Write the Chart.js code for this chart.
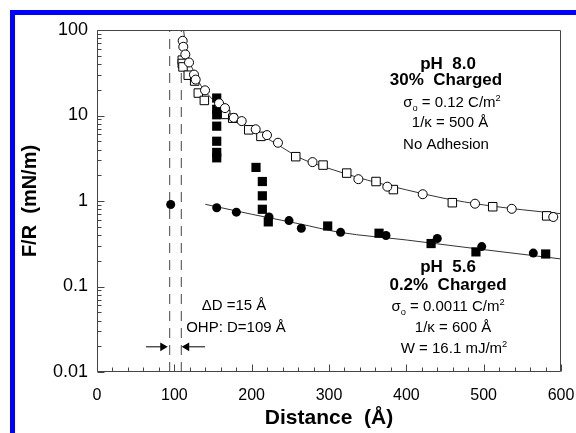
<!DOCTYPE html>
<html><head><meta charset="utf-8">
<script src="https://cdn.jsdelivr.net/npm/chart.js@4.4.0/dist/chart.umd.min.js"></script>
<style>
html,body{margin:0;padding:0;background:#fff;overflow:hidden;}
#wrap{position:relative;width:576px;height:433px;overflow:hidden;}
#frame{position:absolute;left:10px;top:10px;width:700px;height:600px;border-left:5px solid #0000ff;border-top:5px solid #0000ff;pointer-events:none;}
canvas{position:absolute;left:0;top:0;}
</style></head><body>
<div id="wrap"><canvas id="c" width="576" height="433"></canvas><div id="frame"></div></div>
<script>
// ---- data (Distance in Å, F/R in mN/m) ----
const openCircleD = [110.8,111.6,114.2,119,125.4,127.6,139.7,157.8,165.5,176.8,187.1,205.2,219.8,234,278.7,338,375.4,421.2,488.8,536.3,590];
const openCircleF = [74.8,63.6,51.8,41.7,30.1,26.3,19.7,13.9,12.2,9.4,8.6,6.9,5.9,4.8,2.85,1.80,1.47,1.20,0.93,0.81,0.65];
const openSquareD = [110.3,110.3,111.2,118,126.3,131,138.8,166.4,175.5,196.2,212,257,292.3,322.9,360.8,383.2,459.5,511.7,581.5];
const openSquareF = [44.4,40.6,37,29.6,25.3,18.3,15.0,10.3,9.3,6.8,5.7,3.3,2.63,2.12,1.69,1.36,0.955,0.857,0.67];
const filledSquareD = [154.8,154.8,154.8,154.8,154.8,154.8,154.8,205.6,213.8,213.8,213.8,221.5,298.3,364.7,432,490,580.2];
const filledSquareF = [16.0,11.8,10.2,7.5,5.0,3.7,3.2,2.47,1.69,1.15,0.80,0.57,0.51,0.42,0.318,0.254,0.24];
const filledCircleD = [95.3,154.8,180.2,222.4,248.3,264.2,315,373.7,440,497.5,564.2];
const filledCircleF = [0.91,0.835,0.74,0.65,0.59,0.48,0.43,0.395,0.364,0.293,0.246];
const fitHighD = [112,114,117,121,127,135,145,160,180,200,220,240,262,300,350,400,450,500,550,600];
const fitHighF = [100,70,52,40,30,22,17,12.5,9.0,7.0,5.4,4.2,3.2,2.4,1.75,1.35,1.07,0.9,0.79,0.71];
const fitLowD = [140,200,262,314,400,500,600];
const fitLowF = [0.915,0.70,0.54,0.43,0.35,0.27,0.21];
const dashLinesD = [94,109];
const arrowLeftD = [63.4,85];
const arrowRightD = [116,139.7];
const arrowF = 0.0197;
const xTickValues = [0,100,200,300,400,500,600];
const yTickValues = [0.01,0.1,1,10,100];
const yTickLabels = ['0.01','0.1','1','10','100'];

const pts = (xs, ys) => xs.map((v,i)=>({x:v,y:ys[i]}));
const FONT = '"Liberation Sans", Arial, Helvetica, sans-serif';

const datasets = [
  {data:pts(openCircleD,openCircleF),pointStyle:'circle',radius:4.5,backgroundColor:'#fff',borderColor:'#000',borderWidth:1,showLine:false},
  {data:pts(openSquareD,openSquareF),pointStyle:'rect',radius:6,backgroundColor:'#fff',borderColor:'#000',borderWidth:1,showLine:false},
  {data:pts(filledSquareD,filledSquareF),pointStyle:'rect',radius:6.5,backgroundColor:'#000',borderColor:'#000',borderWidth:0,showLine:false},
  {data:pts(filledCircleD,filledCircleF),pointStyle:'circle',radius:4.5,backgroundColor:'#000',borderColor:'#000',borderWidth:0,showLine:false},
  {data:pts(fitHighD,fitHighF),showLine:true,pointRadius:0,borderColor:'#333',borderWidth:1,cubicInterpolationMode:'monotone'},
  {data:pts(fitLowD,fitLowF),showLine:true,pointRadius:0,borderColor:'#333',borderWidth:1,cubicInterpolationMode:'monotone'},
  ...dashLinesD.map(d=>({data:[{x:d,y:0.01},{x:d,y:100}],showLine:true,pointRadius:0,borderColor:'#444',borderWidth:1,borderDash:[10,7]})),
  {data:[{x:arrowLeftD[0],y:arrowF},{x:arrowLeftD[1],y:arrowF}],showLine:true,pointRadius:0,borderColor:'#000',borderWidth:1},
  {data:[{x:arrowRightD[0],y:arrowF},{x:arrowRightD[1],y:arrowF}],showLine:true,pointRadius:0,borderColor:'#000',borderWidth:1},
  {data:[{x:arrowLeftD[1],y:arrowF}],pointStyle:'triangle',rotation:90,radius:5,backgroundColor:'#000',borderColor:'#000',borderWidth:0,showLine:false},
  {data:[{x:arrowRightD[0],y:arrowF}],pointStyle:'triangle',rotation:-90,radius:5,backgroundColor:'#000',borderColor:'#000',borderWidth:0,showLine:false}
];

function drawRich(ctx, segs, cx, cy, size, bold){
  const f = (s)=> (bold?'bold ':'') + s + 'px ' + FONT;
  let total = 0;
  segs.forEach(s=>{ ctx.font = f(s.sub||s.sup ? size*0.62 : size); s.w = ctx.measureText(s.t).width; total += s.w; });
  let x = cx - total/2;
  ctx.textBaseline = 'middle'; ctx.textAlign='left'; ctx.fillStyle='#000';
  segs.forEach(s=>{
    ctx.font = f(s.sub||s.sup ? size*0.62 : size);
    const dy = s.sub ? size*0.35 : (s.sup ? -size*0.33 : 0);
    ctx.fillText(s.t, x, cy+dy);
    x += s.w;
  });
}

const deco = {
  id:'deco',
  afterDraw(chart){
    const {ctx, chartArea:a, scales:{x,y}} = chart;
    ctx.save();
    ctx.strokeStyle='#444'; ctx.lineWidth=1;
    const L=Math.round(a.left)+0.5, R=Math.round(a.right)-0.5, T=Math.round(a.top)+0.5, B=Math.round(a.bottom)-0.5;
    ctx.beginPath(); ctx.moveTo(L,T); ctx.lineTo(R,T); ctx.lineTo(R,B); ctx.lineTo(L,B); ctx.closePath(); ctx.stroke();
    ctx.beginPath();
    for(let v=0; v<=600; v+=20){
      const px = Math.round(x.getPixelForValue(v))+0.5;
      const len = v%100===0 ? 7 : 4;
      ctx.moveTo(px,B); ctx.lineTo(px,B-len);
    }
    for(const d of [0.01,0.1,1,10]){
      for(let m=1;m<=9;m++){
        const py = Math.round(y.getPixelForValue(d*m))+0.5;
        const len = m===1 ? 7 : 4;
        ctx.moveTo(L,py); ctx.lineTo(L+len,py);
      }
    }
    const pt = Math.round(y.getPixelForValue(100))+0.5;
    ctx.moveTo(L,pt); ctx.lineTo(L+7,pt);
    ctx.stroke();

    drawRich(ctx,[{t:'pH  8.0'}],448,64,17,true);
    drawRich(ctx,[{t:'30%  Charged'}],446,80,17,true);
    drawRich(ctx,[{t:'σ'},{t:'o',sub:true},{t:' = 0.12 C/m'},{t:'2',sup:true}],452,103,15,false);
    drawRich(ctx,[{t:'1/κ = 500 Å'}],450,123,15,false);
    drawRich(ctx,[{t:'No Adhesion'}],446,145,15,false);
    drawRich(ctx,[{t:'pH  5.6'}],448,267,17,true);
    drawRich(ctx,[{t:'0.2%  Charged'}],448,285,17,true);
    drawRich(ctx,[{t:'σ'},{t:'o',sub:true},{t:' = 0.0011 C/m'},{t:'2',sup:true}],448,307,15,false);
    drawRich(ctx,[{t:'1/κ = 600 Å'}],453,328,15,false);
    drawRich(ctx,[{t:'W = 16.1 mJ/m'},{t:'2',sup:true}],454,349,15,false);
    drawRich(ctx,[{t:'ΔD =15 Å'}],234,306,15,false);
    drawRich(ctx,[{t:'OHP: D=109 Å'}],236,328,15,false);
    ctx.restore();
  }
};

new Chart(document.getElementById('c'), {
  type:'scatter',
  data:{datasets},
  options:{
    responsive:false, animation:false,
    layout:{padding:{top:30,right:15,left:0,bottom:0}},
    plugins:{legend:{display:false},tooltip:{enabled:false}},
    scales:{
      x:{type:'linear',min:0,max:600,
        afterBuildTicks:(s)=>{s.ticks = xTickValues.map(v=>({value:v}));},
        afterFit:(s)=>{s.height=61; s.paddingLeft=0; s.paddingRight=0;},
        grid:{display:false,drawTicks:false},border:{display:false},
        ticks:{color:'#000',font:{family:FONT,size:16},padding:14,autoSkip:false,maxRotation:0},
        title:{display:true,text:'Distance  (Å)',color:'#000',font:{family:FONT,size:21,weight:'bold'},padding:{top:0,bottom:2}}
      },
      y:{type:'logarithmic',min:0.01,max:100,
        afterBuildTicks:(s)=>{s.ticks = yTickValues.map(v=>({value:v}));},
        afterFit:(s)=>{s.width=97; s.paddingTop=0; s.paddingBottom=0;},
        grid:{display:false,drawTicks:false},border:{display:false},
        ticks:{color:'#000',font:{family:FONT,size:18},padding:9,autoSkip:false,
          callback:(v)=>{const i=yTickValues.indexOf(v);return i>=0?yTickLabels[i]:'';}},
        title:{display:true,text:'F/R  (mN/m)',color:'#000',font:{family:FONT,size:20,weight:'bold'},padding:{top:18,bottom:0}}
      }
    }
  },
  plugins:[deco]
});
</script>
</body></html>
